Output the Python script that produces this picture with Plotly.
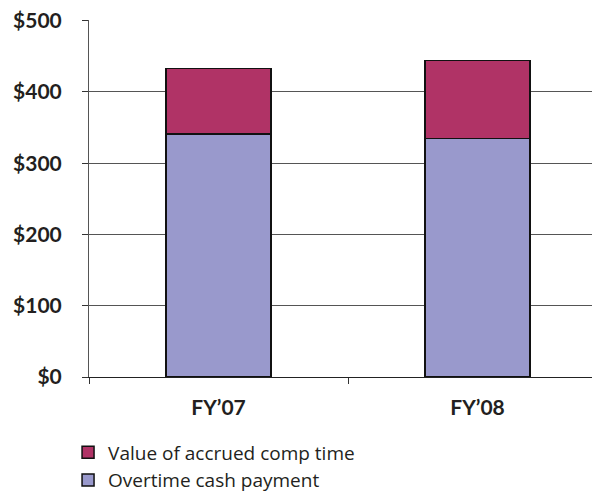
import plotly.graph_objects as go

categories = ["FY\u201907", "FY\u201908"]
cash_payment = [341, 335]
comp_time = [92, 109]
tick_vals = [0, 100, 200, 300, 400, 500]
tick_text = ["$0", "$100", "$200", "$300", "$400", "$500"]

FONT = "Lato, Open Sans, sans-serif"
LEGEND_FONT = "Open Sans, Lato, sans-serif"

fig = go.Figure()
fig.add_trace(go.Bar(
    x=[0, 1], y=cash_payment, name="Overtime cash payment",
    marker=dict(color="#9999CC", line=dict(color="#111111", width=1.5)),
    width=0.405,
))
fig.add_trace(go.Bar(
    x=[0, 1], y=comp_time, name="Value of accrued comp time",
    marker=dict(color="#B03366", line=dict(color="#111111", width=1.5)),
    width=0.405,
))

# page body has an 8px margin, so the figure is sized to fill the rest
fig.update_layout(
    barmode="stack",
    width=592, height=485,
    margin=dict(l=81, r=0, t=12, b=116, autoexpand=False),
    plot_bgcolor="white", paper_bgcolor="white",
    font=dict(family=FONT, color="#231F20"),
    showlegend=True,
    legend=dict(
        x=-0.041, xanchor="left", y=-0.158, yanchor="top",
        traceorder="reversed",
        font=dict(size=19, color="#231F20", family=LEGEND_FONT),
        itemwidth=30, tracegroupgap=0,
    ),
    xaxis=dict(
        tickmode="array", tickvals=[0, 1], ticktext=categories,
        range=[-0.5, 1.473],
        showline=True, linecolor="#222222", linewidth=1,
        ticks="", showgrid=False, zeroline=False,
        automargin=False,
        ticklabelstandoff=12,
        tickfont=dict(size=21, family=FONT, weight="bold"),
        fixedrange=True,
    ),
    yaxis=dict(
        range=[0, 501],
        tickmode="array", tickvals=tick_vals, ticktext=tick_text,
        showline=True, linecolor="#555555", linewidth=1,
        ticks="outside", ticklen=6, tickcolor="#333333",
        showgrid=True, gridcolor="#555555", gridwidth=1,
        zeroline=False,
        automargin=False,
        ticklabeloverflow="allow",
        ticklabelstandoff=16,
        tickfont=dict(size=21, family=FONT, weight="bold"),
    ),
)

fig.update_xaxes(minor=dict(tickvals=[-0.5, 0.5], ticks="outside", ticklen=6, tickcolor="#333333", showgrid=False))

fig.write_html("out.html")
